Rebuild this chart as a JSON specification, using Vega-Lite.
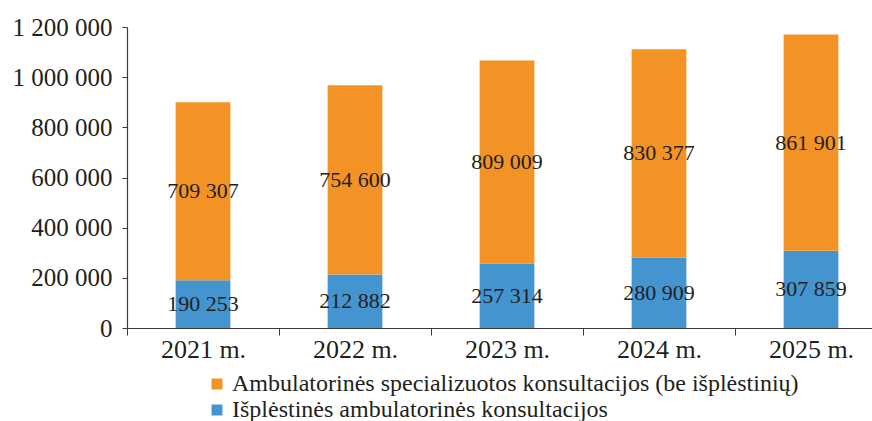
{
  "$schema": "https://vega.github.io/schema/vega-lite/v6.json",
  "autosize": {"type": "none"},
  "padding": {"left": 127, "top": 27, "right": 0, "bottom": 93},
  "width": 760,
  "height": 301,
  "background": "white",
  "config": {
    "view": {"stroke": null},
    "font": "Liberation Serif",
    "locale": {"number": {"decimal": ",", "thousands": " ", "grouping": [3], "currency": ["", ""]}},
    "axis": {"labelFont": "Liberation Serif", "labelColor": "#231F20", "domainColor": "#3a3a3a", "tickColor": "#3a3a3a", "grid": false, "title": null},
    "legend": {"labelFont": "Liberation Serif", "labelColor": "#231F20"}
  },
  "data": {
    "values": [
      {"year": "2021 m.", "series": "Išplėstinės ambulatorinės konsultacijos", "value": 190253, "ord": 1},
      {"year": "2021 m.", "series": "Ambulatorinės specializuotos konsultacijos (be išplėstinių)", "value": 709307, "ord": 2},
      {"year": "2022 m.", "series": "Išplėstinės ambulatorinės konsultacijos", "value": 212882, "ord": 1},
      {"year": "2022 m.", "series": "Ambulatorinės specializuotos konsultacijos (be išplėstinių)", "value": 754600, "ord": 2},
      {"year": "2023 m.", "series": "Išplėstinės ambulatorinės konsultacijos", "value": 257314, "ord": 1},
      {"year": "2023 m.", "series": "Ambulatorinės specializuotos konsultacijos (be išplėstinių)", "value": 809009, "ord": 2},
      {"year": "2024 m.", "series": "Išplėstinės ambulatorinės konsultacijos", "value": 280909, "ord": 1},
      {"year": "2024 m.", "series": "Ambulatorinės specializuotos konsultacijos (be išplėstinių)", "value": 830377, "ord": 2},
      {"year": "2025 m.", "series": "Išplėstinės ambulatorinės konsultacijos", "value": 307859, "ord": 1},
      {"year": "2025 m.", "series": "Ambulatorinės specializuotos konsultacijos (be išplėstinių)", "value": 861901, "ord": 2}
    ]
  },
  "transform": [
    {"stack": "value", "groupby": ["year"], "sort": [{"field": "ord", "order": "ascending"}], "as": ["v0", "v1"]},
    {"calculate": "(datum.v0 + datum.v1) / 2", "as": "mid"}
  ],
  "encoding": {
    "x": {
      "field": "year", "type": "nominal",
      "scale": {"paddingInner": 0, "paddingOuter": 0},
      "axis": {"labelAngle": 0, "labelFontSize": 26, "tickBand": "extent", "tickSize": 7, "labelPadding": 1, "domainWidth": 1.2}
    }
  },
  "layer": [
    {
      "mark": {"type": "bar", "width": {"band": 0.36}},
      "encoding": {
        "y": {
          "field": "v0", "type": "quantitative",
          "scale": {"domain": [0, 1200000], "nice": false},
          "axis": {"values": [0, 200000, 400000, 600000, 800000, 1000000, 1200000], "format": ",d", "labelFontSize": 25, "tickSize": 5, "labelPadding": 10, "domainWidth": 1.2}
        },
        "y2": {"field": "v1"},
        "color": {
          "field": "series", "type": "nominal",
          "scale": {
            "domain": ["Ambulatorinės specializuotos konsultacijos (be išplėstinių)", "Išplėstinės ambulatorinės konsultacijos"],
            "range": ["#F39325", "#4494D0"]
          },
          "legend": {
            "title": null, "orient": "none", "legendX": 78, "legendY": 345,
            "symbolType": "square", "symbolSize": 120, "symbolStrokeWidth": 0,
            "labelFontSize": 24, "labelLimit": 0, "rowPadding": 2, "padding": 0, "labelOffset": 3
          }
        }
      }
    },
    {
      "mark": {"type": "text", "fontSize": 22, "color": "#231F20", "font": "Liberation Serif", "baseline": "middle"},
      "encoding": {
        "y": {"field": "mid", "type": "quantitative"},
        "text": {"field": "value", "type": "quantitative", "format": ",d"}
      }
    }
  ]
}
